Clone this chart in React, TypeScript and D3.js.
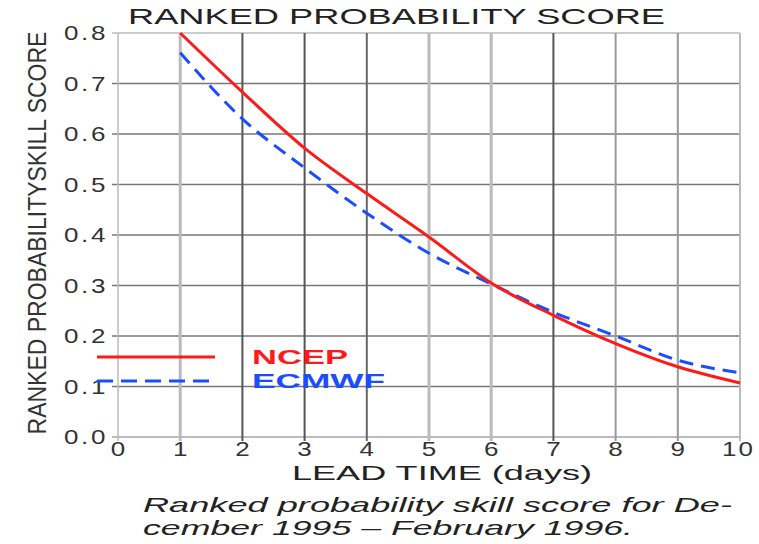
import React from 'react';
import * as d3 from 'd3';

// lead time in days and skill scores
const leadDays = [1, 2, 3, 4, 5, 6, 7, 8, 9, 10];
const ncepScores = [0.80, 0.683, 0.572, 0.482, 0.396, 0.305, 0.241, 0.185, 0.139, 0.107];
const ecmwfScores = [0.761, 0.630, 0.533, 0.443, 0.364, 0.303, 0.247, 0.200, 0.152, 0.127];

const xTicks = [0, 1, 2, 3, 4, 5, 6, 7, 8, 9, 10];
const yTicks = [0.0, 0.1, 0.2, 0.3, 0.4, 0.5, 0.6, 0.7, 0.8];

const seriesNames = ['NCEP', 'ECMWF'];

const FONT = '"Liberation Sans", Arial, Helvetica, sans-serif';

// the scanned grid has uneven line weights, keep that look
const vGridStyle: {[k: number]: [string, number]} = {
  0: ['#bbb', 1.5], 1: ['#bbb', 3], 2: ['#555', 2], 3: ['#555', 2], 4: ['#666', 2],
  5: ['#bbb', 3], 6: ['#bbb', 3], 7: ['#555', 2], 8: ['#999', 2], 9: ['#999', 2], 10: ['#bbb', 2],
};

export default function App() {
  const width = 759;
  const height = 544;
  const margin = {top: 33, right: 19, bottom: 107, left: 118};

  const x = d3.scaleLinear().domain([0, 10]).range([margin.left, width - margin.right]);
  const y = d3.scaleLinear().domain([0, 0.8]).range([height - margin.bottom, margin.top]);

  const line = d3.line<number>()
    .x((_, i) => x(leadDays[i]))
    .y(d => y(d))
    .curve(d3.curveMonotoneX);

  const legendX = 97;
  // tick digits in the original are stretched sideways
  const stretch = 1.3;

  return (
    <svg width={width} height={height} style={{position: 'absolute', left: 0, top: 0, background: '#fff'}}>
      <text x={128} y={24} textLength={537} lengthAdjust="spacingAndGlyphs"
        fontFamily={FONT} fontSize={22} fill="#222">RANKED PROBABILITY SCORE</text>

      {/* horizontal grid */}
      {yTicks.map(t => (
        <g key={'h' + t}>
          <line x1={x(0) - 6} x2={x(10)} y1={y(t)} y2={y(t)}
            stroke={t === 0 || t === 0.8 ? '#bbb' : '#777'} strokeWidth={t === 0 ? 2 : 1.5} />
          <text transform={`translate(${x(0) - 10},${y(t) + 7}) scale(${stretch},1)`} textAnchor="end"
            fontFamily={FONT} fontSize={20} letterSpacing={2} fill="#333">{t.toFixed(1)}</text>
        </g>
      ))}

      {/* vertical grid */}
      {xTicks.map(t => (
        <g key={'v' + t}>
          <line x1={x(t)} x2={x(t)} y1={y(0.8)} y2={y(0) + 4}
            stroke={vGridStyle[t][0]} strokeWidth={vGridStyle[t][1]} />
          {/* the last label is pushed left so it stays inside the frame */}
          <text transform={`translate(${t === 10 ? x(t) - 18 : x(t)},456) scale(${stretch},1)`}
            textAnchor={t === 10 ? 'start' : 'middle'}
            fontFamily={FONT} fontSize={20} letterSpacing={t === 10 ? 1.5 : 0} fill="#333">{t}</text>
        </g>
      ))}

      {/* condensed y title: tall glyphs, narrow spacing */}
      <text transform="translate(46,233) rotate(-90) scale(1.15,1.27)" textAnchor="middle"
        fontFamily={FONT} fontSize={20} fill="#333">RANKED PROBABILITYSKILL SCORE</text>

      <text x={292} y={480} textLength={300} lengthAdjust="spacingAndGlyphs"
        fontFamily={FONT} fontSize={21} fill="#222">LEAD TIME (days)</text>

      <path d={line(ecmwfScores) || ''} fill="none" stroke="#1a4dff" strokeWidth={3}
        strokeDasharray="14,8" />
      <path d={line(ncepScores) || ''} fill="none" stroke="#ff1a1a" strokeWidth={3} />

      {/* legend */}
      <line x1={legendX} x2={215} y1={357} y2={357} stroke="#ff1a1a" strokeWidth={3} />
      <line x1={legendX} x2={213} y1={381} y2={381} stroke="#1a4dff" strokeWidth={3}
        strokeDasharray="16,8" />
      <text x={252} y={364} textLength={96} lengthAdjust="spacingAndGlyphs" fontFamily={FONT}
        fontSize={21} fontWeight="bold" fill="#ff1a1a">{seriesNames[0]}</text>
      <text x={252} y={388} textLength={133} lengthAdjust="spacingAndGlyphs" fontFamily={FONT}
        fontSize={21} fontWeight="bold" fill="#1a4dff">{seriesNames[1]}</text>

      {/* caption */}
      <text x={143} y={512} textLength={589} lengthAdjust="spacingAndGlyphs" fontFamily={FONT}
        fontSize={21} fontStyle="italic" fill="#222">Ranked probability skill score for De-</text>
      <text x={143} y={535} textLength={490} lengthAdjust="spacingAndGlyphs" fontFamily={FONT}
        fontSize={21} fontStyle="italic" fill="#222">cember 1995 – February 1996.</text>
    </svg>
  );
}
